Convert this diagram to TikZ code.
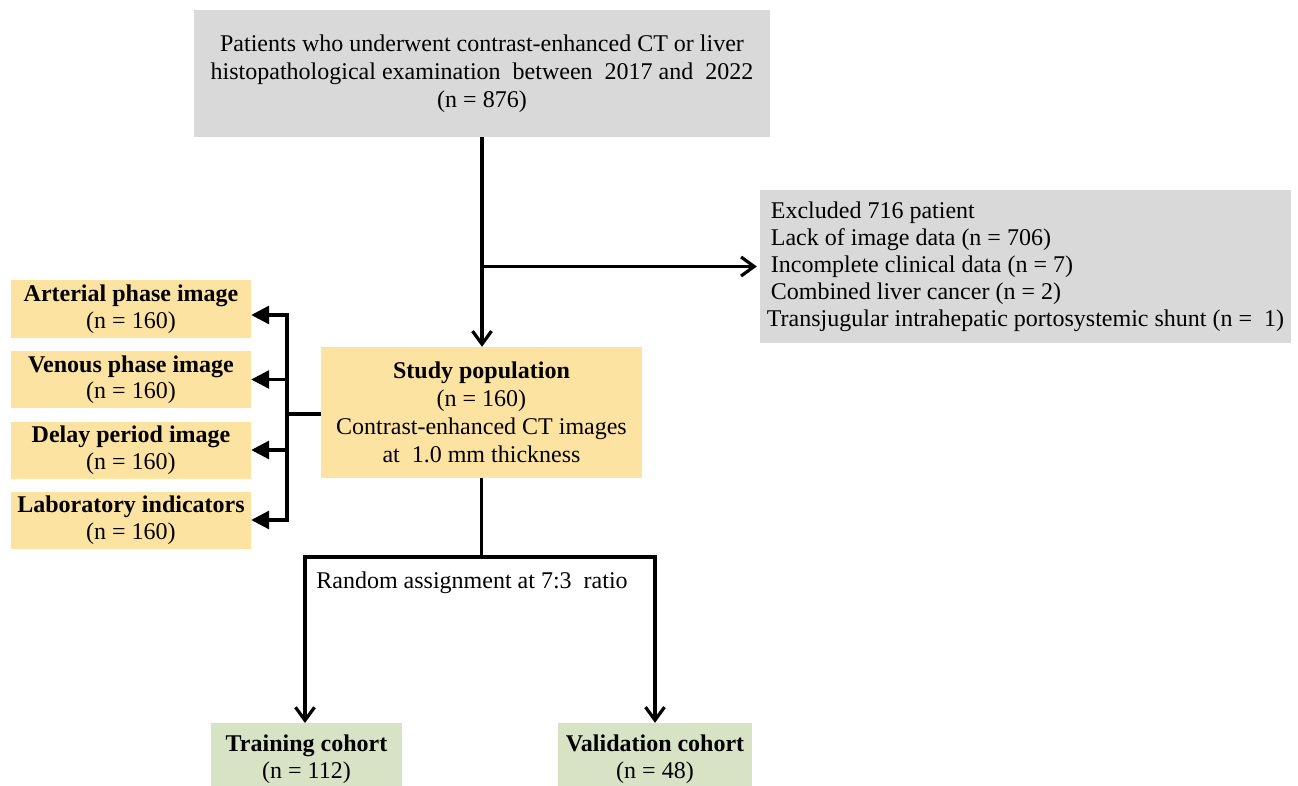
\documentclass[tikz,border=0pt]{standalone}
\usepackage{fontspec}
\setmainfont{Liberation Serif}
\usetikzlibrary{arrows.meta}
\definecolor{boxgrey}{HTML}{D9D9D9}
\definecolor{boxyellow}{HTML}{FCE3A1}
\definecolor{boxgreen}{HTML}{D8E3C6}
\begin{document}
\begin{tikzpicture}[x=1pt,y=-1pt,
  base/.style={draw=none, inner sep=0pt, align=center, font=\fontsize{24}{28}\selectfont},
  greybox/.style={base, fill=boxgrey},
  yellowbox/.style={base, fill=boxyellow},
  greenbox/.style={base, fill=boxgreen},
  sidebox/.style={yellowbox, minimum width=240pt, minimum height=57pt, font=\fontsize{24}{26.5}\selectfont},
  conn/.style={line width=3.2pt},
  openarrow/.style={conn, -{Straight Barb[length=13pt,width=19pt]}},
  fillarrow/.style={conn, -{Triangle[length=18pt,width=18pt]}}]

\useasboundingbox (0,0) rectangle (1298,786);
\clip (0,0) rectangle (1298,786);

\node[greybox, minimum width=576pt, minimum height=127pt] (top) at (482,73.5)
  {Patients who underwent contrast-enhanced CT or liver\\histopathological examination\ \ between\ \ 2017 and\ \ 2022\\(n = 876)};

\node[greybox, minimum width=531pt, minimum height=153pt, align=left, font=\fontsize{24}{27}\selectfont] (excl) at (1025.5,266.5)
  {\hspace{4pt}Excluded 716 patient\\\hspace{4pt}Lack of image data (n = 706)\\\hspace{4pt}Incomplete clinical data (n = 7)\\\hspace{4pt}Combined liver cancer (n = 2)\\Transjugular intrahepatic portosystemic shunt (n =\ \ 1)};

\node[yellowbox, minimum width=321pt, minimum height=131pt] (study) at (481.5,412.5)
  {\textbf{Study population}\\(n = 160)\\Contrast-enhanced CT images\\at\ \ 1.0 mm thickness};

\node[sidebox] (art) at (131,309) {\textbf{Arterial phase image}\\(n\ =\ 160)};
\node[sidebox] (ven) at (131,379.5) {\textbf{Venous phase image}\\(n\ =\ 160)};
\node[sidebox] (del) at (131,450) {\textbf{Delay period image}\\(n\ =\ 160)};
\node[sidebox] (lab) at (131,520) {\textbf{Laboratory indicators}\\(n\ =\ 160)};

\node[greenbox, minimum width=191pt, minimum height=72pt, font=\fontsize{24}{27}\selectfont] (train) at (306.5,759) {\textbf{Training cohort}\\(n = 112)};
\node[greenbox, minimum width=194pt, minimum height=72pt, font=\fontsize{24}{27}\selectfont] (val) at (655,759) {\textbf{Validation cohort}\\(n = 48)};

\node[base] (ratio) at (472,583) {Random assignment at 7:3\ \ ratio};

% top to study
\draw[openarrow] (top.south) -- (top.south |- study.north);
\coordinate (jx) at (top.south |- excl.west);
\draw[openarrow] (jx) -- ([xshift=-3pt]excl.west);

% study to side boxes
\coordinate (bus) at (287,414);
\coordinate (a1) at ([yshift=-6pt]art.east);
\draw[conn] (study.west |- bus) -- (bus);
\draw[fillarrow] (bus |- lab.east) -- (bus |- a1) -- (a1);
\draw[fillarrow] (bus |- a1) -- (bus |- lab.east) -- (lab.east);
\draw[fillarrow] (bus |- ven.east) -- (ven.east);
\draw[fillarrow] (bus |- del.east) -- (del.east);

% study to cohorts
\coordinate (split) at (481.5,557);
\draw[conn] (study.south) -- (split);
\draw[openarrow] (split) -- (split -| 305,0) -- (305,723);
\draw[openarrow] (split) -- (split -| val.north) -- (val.north);
\end{tikzpicture}
\end{document}
